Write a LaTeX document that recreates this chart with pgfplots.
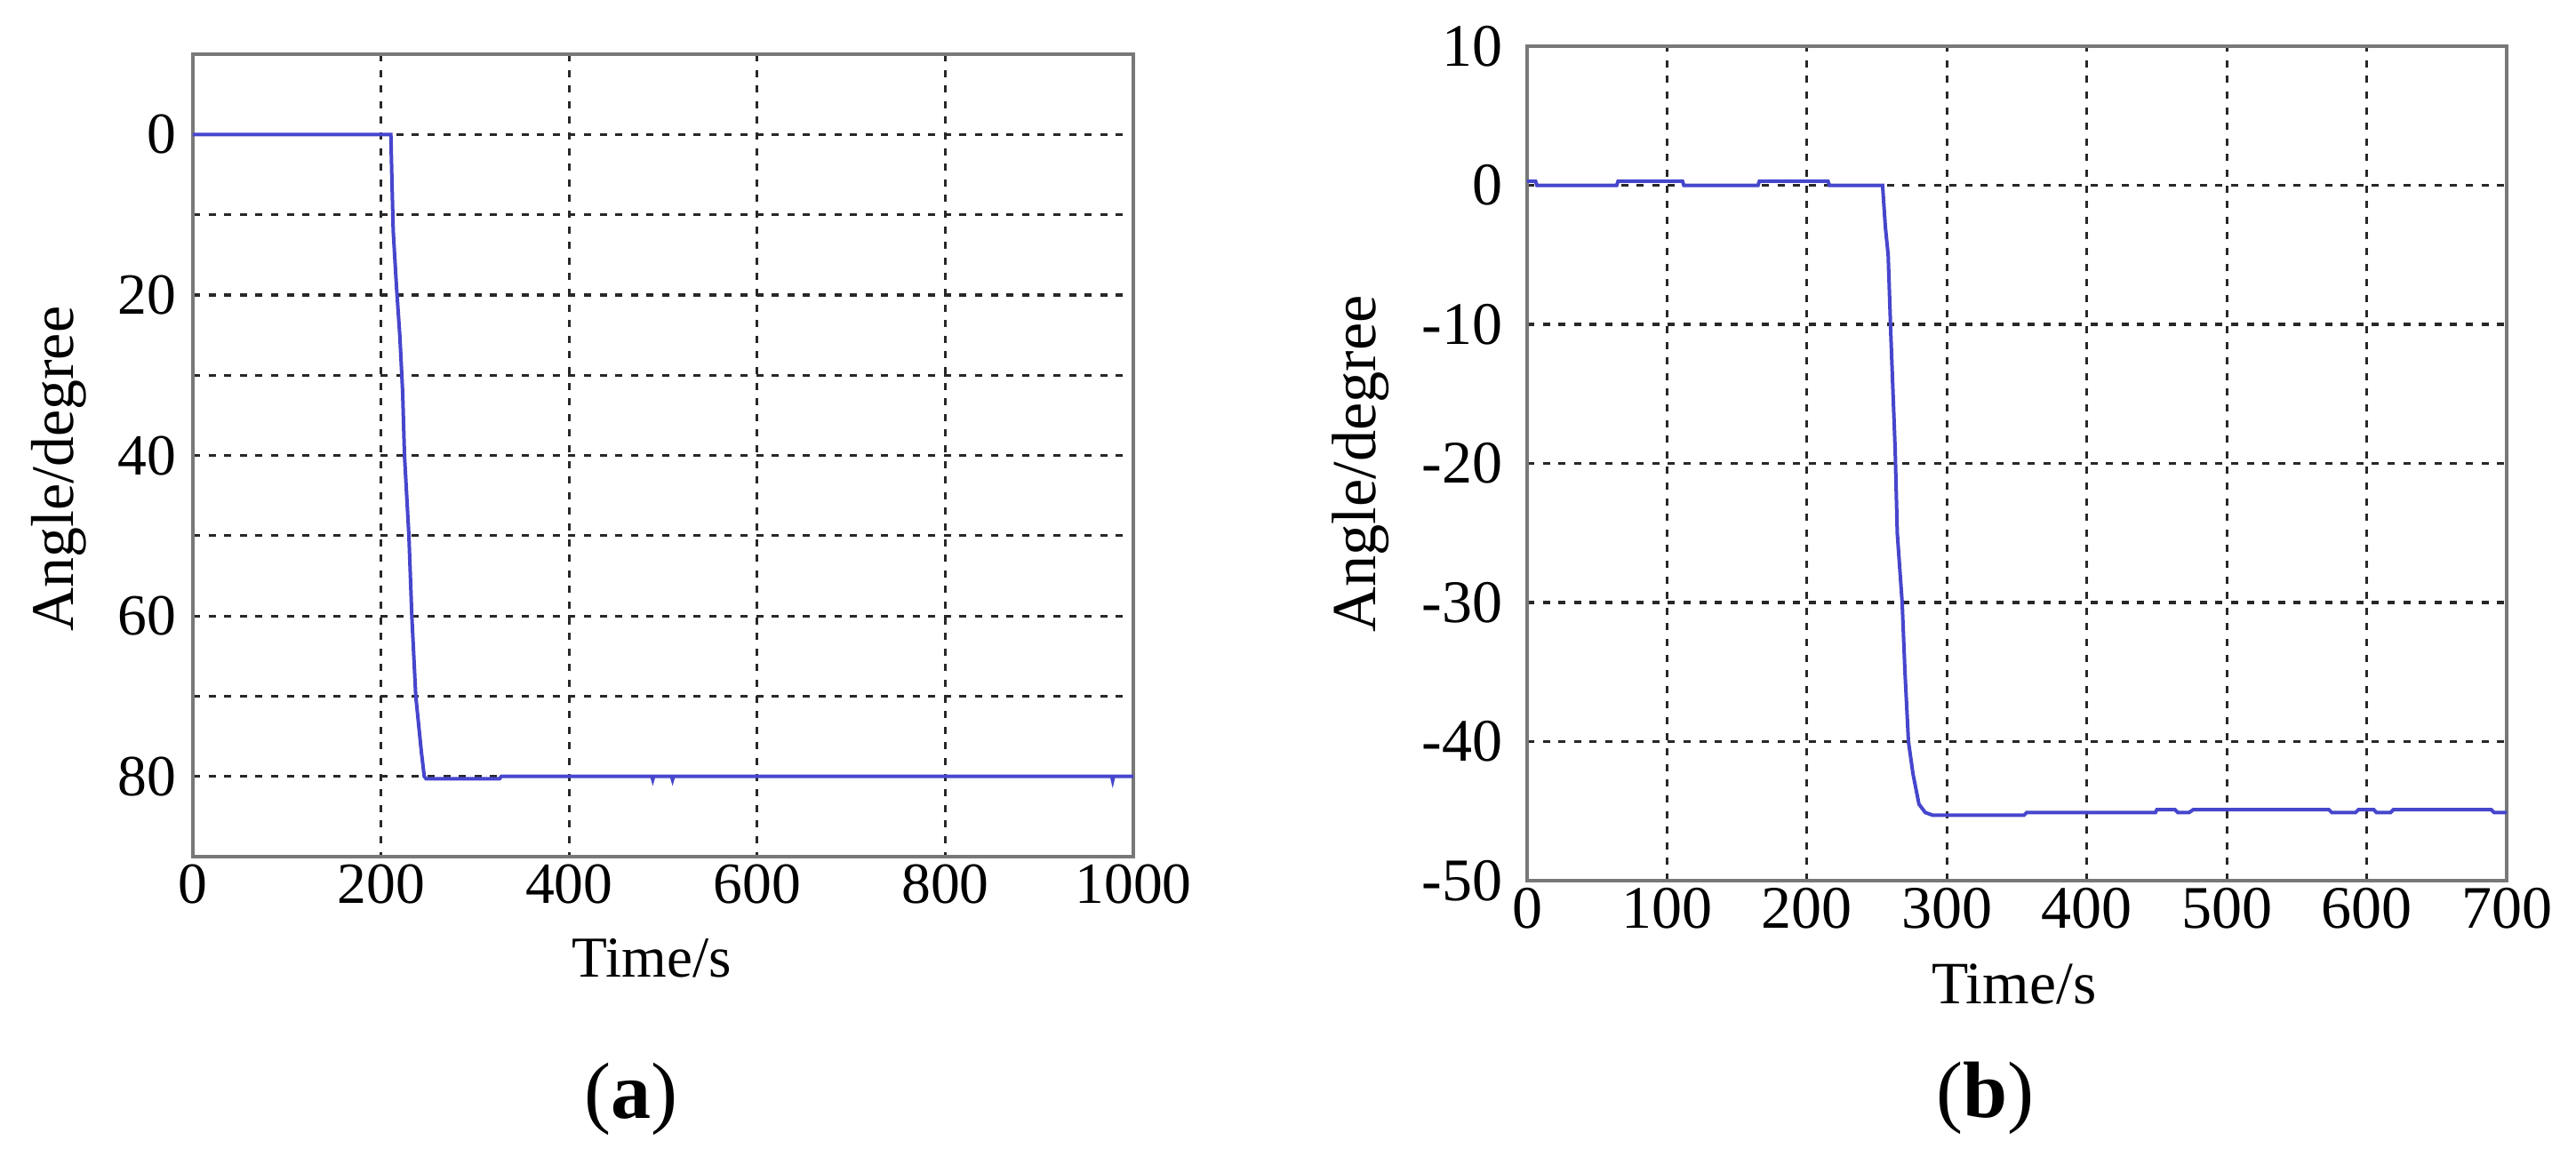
\documentclass[border=0pt]{standalone}
\usepackage{fontspec}
\setmainfont{Liberation Serif}
\usepackage{pgfplots}
\pgfplotsset{compat=1.18}
\definecolor{lineblue}{RGB}{70,70,205}
\definecolor{framegray}{RGB}{120,120,120}
\definecolor{gridc}{RGB}{40,40,40}
\pgfplotsset{mystyle/.style={
  scale only axis,
  anchor=south west,
  axis line style={framegray, line width=1.2pt},
  grid=both,
  major grid style={gridc, line width=0.8pt, dash pattern=on 2pt off 2.4pt},
  minor grid style={gridc, line width=0.8pt, dash pattern=on 2pt off 2.4pt},
  tick style={draw=none},
  /pgf/number format/assume math mode=true,
  /pgf/number format/1000 sep={},
  xticklabel style={yshift=1.4pt},
}}
\begin{document}
\begin{tikzpicture}
\useasboundingbox (0,0) rectangle (724.5pt,327.5pt);
% (a)
\begin{axis}[mystyle,
  at={(54.25pt,86.5pt)}, width=264.5pt, height=225.75pt,
  xmin=0, xmax=1000, ymin=-10, ymax=90, y dir=reverse,
  xtick={0,200,...,1000}, ytick={0,20,...,80}, minor ytick={10,30,50,70},
  tick label style={font=\fontsize{16.4}{19}\selectfont},
  yticklabel style={xshift=-1.2pt},
  xlabel={Time/s}, ylabel={Angle/degree},
  xlabel style={font=\fontsize{16.3}{19}\selectfont, at={(axis description cs:0.488,-0.1495)}, anchor=base},
  ylabel style={font=\fontsize{17}{20}\selectfont, at={(axis description cs:-0.1267,0.483)}, anchor=base},
]
\addplot[lineblue, line width=1pt] coordinates {
(0,0) (210.5,0) (211.5,5) (213,12) (216.5,19) (220,25) (223,32) (225,40)
(229.7,50) (232.8,60) (237,70) (243,77) (246,80) (248,80.3) (326,80.3)
(328,80) (488,80) (489,80.4) (490,80) (509,80) (510,80.4) (511,80)
(977,80) (978,80.5) (979,80) (1000,80)};
\end{axis}
% (b)
\begin{axis}[mystyle,
  at={(429.5pt,79.75pt)}, width=275.5pt, height=234.75pt,
  xmin=0, xmax=700, ymin=-50, ymax=10,
  xtick={0,100,...,700}, ytick={-50,-40,...,10},
  tick label style={font=\fontsize{17}{20}\selectfont},
  yticklabel style={xshift=-3.4pt},
  xlabel={Time/s}, ylabel={Angle/degree},
  xlabel style={font=\fontsize{16.9}{20}\selectfont, at={(axis description cs:0.497,-0.148)}, anchor=base},
  ylabel style={font=\fontsize{17.6}{20}\selectfont, at={(axis description cs:-0.155,0.4995)}, anchor=base},
]
\addplot[lineblue, line width=1pt] coordinates {
(0,0.3) (6,0.3) (7,0) (64,0) (65,0.3) (111,0.3) (112,0) (165,0) (166,0.3)
(215,0.3) (216,0) (254,0) (256,-3) (258,-5) (260,-11) (263,-19) (264.5,-25)
(268,-30) (270,-35) (272.5,-40) (275.7,-42.3) (280,-44.5) (284.5,-45.1)
(290,-45.3) (355,-45.3) (357,-45.1) (449,-45.1) (450,-44.9) (463,-44.9)
(465,-45.1) (473,-45.1) (476,-44.9) (573,-44.9) (575,-45.1) (592,-45.1)
(594,-44.9) (605,-44.9) (607,-45.1) (617,-45.1) (619,-44.9) (689,-44.9)
(691,-45.1) (700,-45.1)};
\end{axis}
\node[anchor=base, font=\fontsize{22.5}{26}\selectfont] at (177.5pt,13pt) {(\textbf{a})};
\node[anchor=base, font=\fontsize{22.5}{26}\selectfont] at (558.25pt,13.25pt) {(\textbf{b})};
\end{tikzpicture}
\end{document}
